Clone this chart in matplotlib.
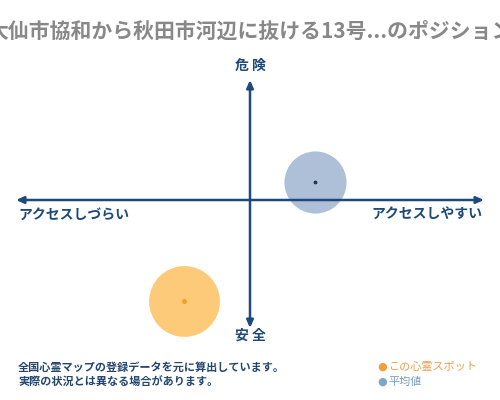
import matplotlib
matplotlib.use("Agg")
from matplotlib import pyplot as plt

plt.rcParams['font.family'] = ['Noto Sans CJK JP', 'DejaVu Sans']

titulo = "大仙市協和から秋田市河辺に抜ける13号...のポジション"
eixo_cima, eixo_baixo = "危 険", "安 全"
eixo_esq, eixo_dir = "アクセスしづらい", "アクセスしやすい"
notas = ["全国心霊マップの登録データを元に算出しています。",
         "実際の状況とは異なる場合があります。"]
legenda = ["この心霊スポット", "平均値"]

# posicoes (acesso, perigo) em -1..1
spot_x, spot_y = -0.282, -0.79
media_x, media_y = 0.278, 0.14

azul = "#1d4a7a"

fig = plt.figure(figsize=(5, 4), dpi=100)
ax = fig.add_axes([16/500, 72/400, 468/500, 256/400])
ax.set_xlim(-1, 1)
ax.set_ylim(-1, 1)
ax.axis('off')

# circulos
ax.scatter([media_x], [media_y], s=2000, color="#a9bdd6", alpha=0.95, zorder=1, linewidths=0, clip_on=False)
ax.scatter([spot_x], [spot_y], s=2600, color="#fdc872", alpha=0.95, zorder=1, linewidths=0, clip_on=False)
ax.scatter([media_x], [media_y], s=3, color="#1d3550", zorder=4, clip_on=False)
ax.scatter([spot_x], [spot_y], s=6, color="#f0a020", zorder=4, clip_on=False)

# eixos com setas
seta = dict(arrowstyle='-|>,head_length=0.45,head_width=0.2', color=azul, lw=1.8, shrinkA=0, shrinkB=0)
for fim in [(1, 0), (-1, 0), (0, 0.9375), (0, -1)]:
    ax.annotate("", xy=fim, xytext=(0, 0), arrowprops=seta, zorder=3, annotation_clip=False)

fig.text(0.5, 1 - 31/400, titulo, ha='center', va='center', fontsize=15, color="#888888", fontweight='bold')
fig.text(0.5, 1 - 66/400, eixo_cima, ha='center', va='center', fontsize=10, color=azul, fontweight='bold')
fig.text(0.5, 1 - 336/400, eixo_baixo, ha='center', va='center', fontsize=10, color=azul, fontweight='bold')
fig.text(18/500, 1 - 215/400, eixo_esq, ha='left', va='center', fontsize=10, color=azul, fontweight='bold')
fig.text(482/500, 1 - 215/400, eixo_dir, ha='right', va='center', fontsize=10, color=azul, fontweight='bold')

fig.text(18/500, 1 - 367/400, notas[0], ha='left', va='center', fontsize=8, color="#24466e", fontweight='bold')
fig.text(18/500, 1 - 382/400, notas[1], ha='left', va='center', fontsize=8, color="#24466e", fontweight='bold')

fig.text(377/500, 1 - 367/400, "●", ha='left', va='center', fontsize=8, color="#f0a040", family='DejaVu Sans')
fig.text(388/500, 1 - 367/400, legenda[0], ha='left', va='center', fontsize=8, color="#e8a050")
fig.text(377/500, 1 - 382/400, "●", ha='left', va='center', fontsize=8, color="#7ea6c8", family='DejaVu Sans')
fig.text(388/500, 1 - 382/400, legenda[1], ha='left', va='center', fontsize=8, color="#7a9cc0")

fig.savefig("out.png", dpi=100)
